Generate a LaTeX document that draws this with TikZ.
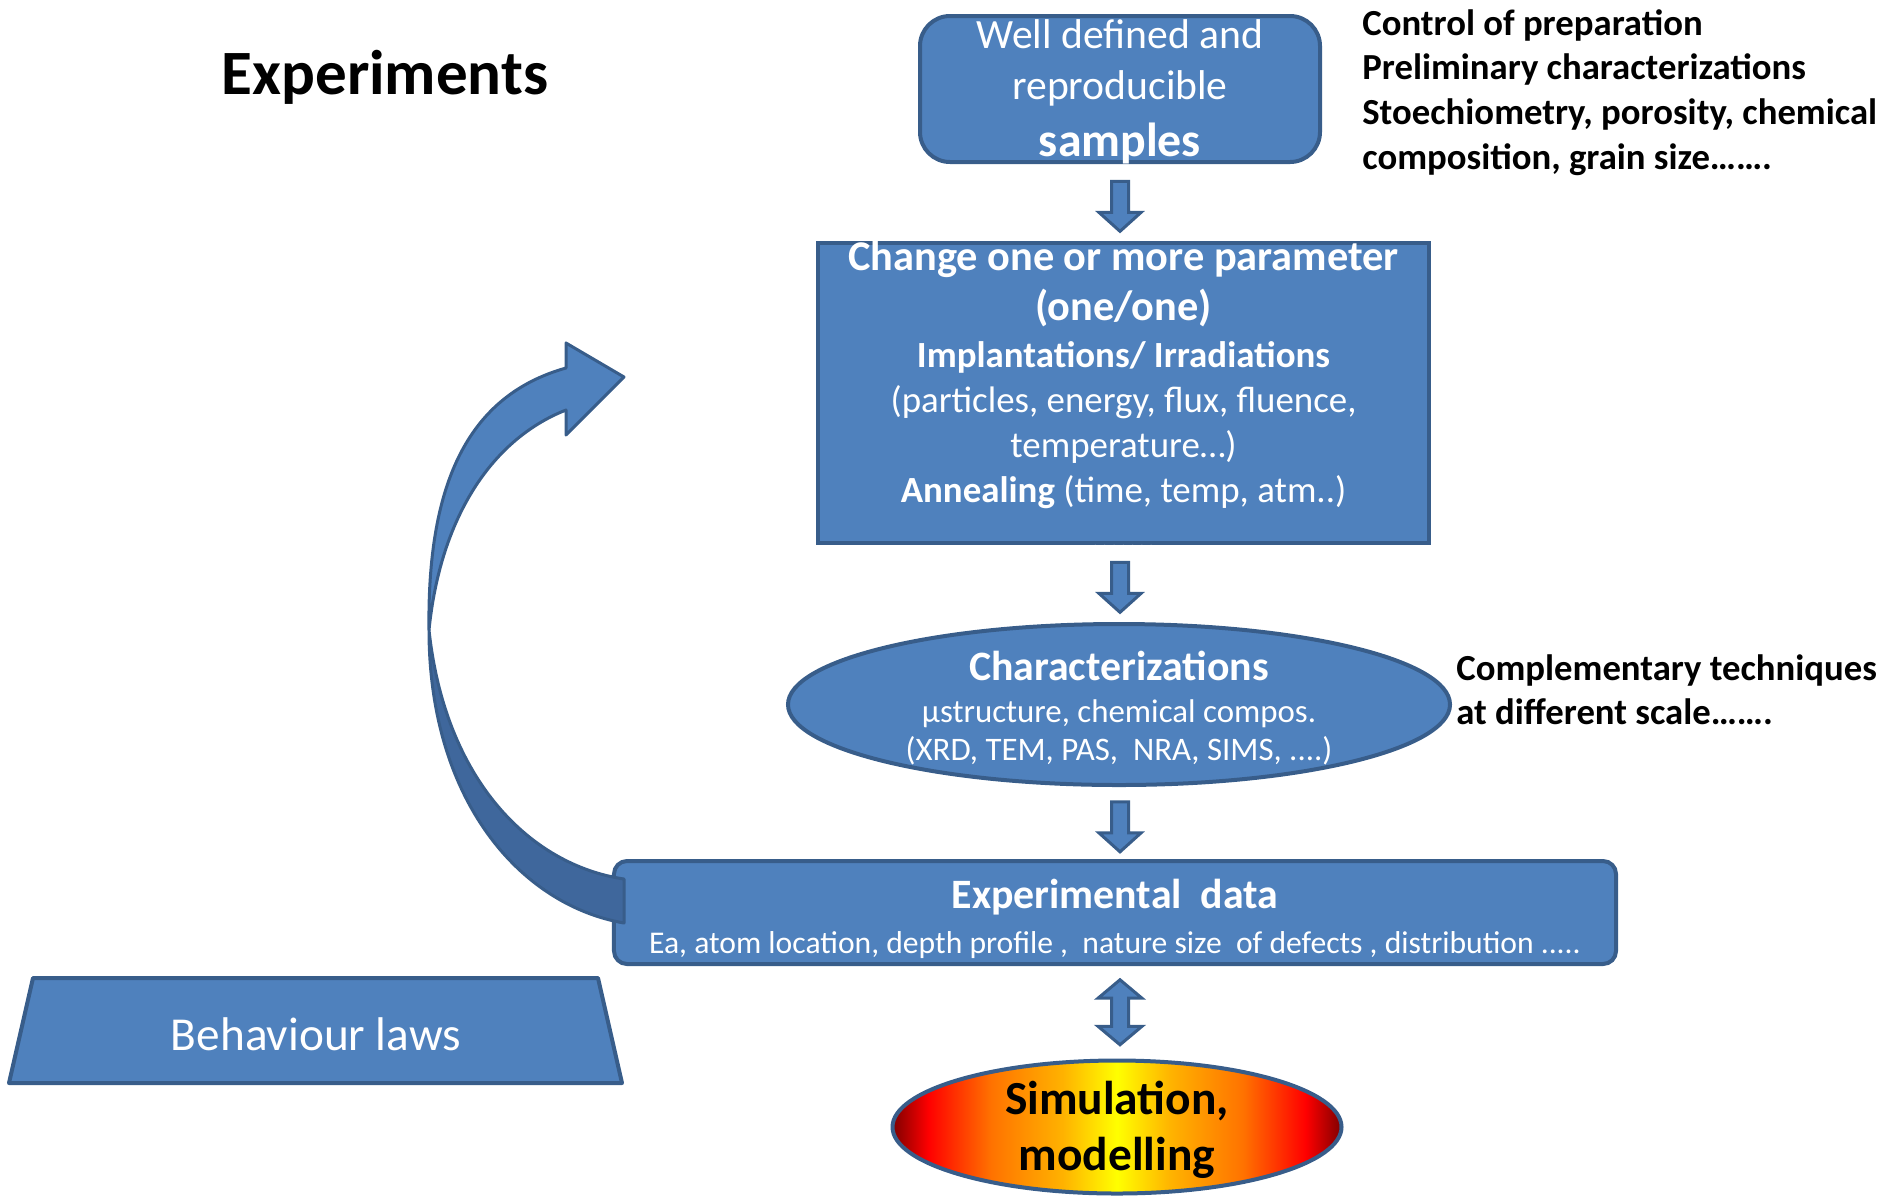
\documentclass[tikz,border=0pt]{standalone}
\usepackage{fontspec}
\setmainfont{Carlito}
\usetikzlibrary{shapes.geometric,shapes.arrows,positioning,calc}
\definecolor{boxblue}{HTML}{4F81BD}
\definecolor{edgeblue}{HTML}{385D8A}
\definecolor{bandblue}{HTML}{3F679C}
\pgfdeclarehorizontalshading{simfire}{100bp}{color(0bp)=(red!50!black); color(25bp)=(red!50!black); color(29bp)=(red); color(36bp)=(orange!90!red); color(44bp)=(orange!60!yellow); color(50bp)=(yellow); color(56bp)=(orange!60!yellow); color(64bp)=(orange!90!red); color(71bp)=(red); color(75bp)=(red!50!black); color(100bp)=(red!50!black)}

\begin{document}
\begin{tikzpicture}[x=0.2mm, y=-0.2mm,
  bluebox/.style={draw=edgeblue, line width=0.8mm, fill=boxblue, text=white, align=center, inner sep=0pt},
  boxtext/.style={text=white, align=center, inner sep=0pt},
  note/.style={anchor=north west, align=left, inner sep=0pt, font=\fontsize{20.9}{25.4}\selectfont\bfseries},
  flow/.style={single arrow, draw=edgeblue, line width=0.6mm, fill=boxblue, inner sep=1.4mm, minimum width=7.8mm, minimum height=10mm, single arrow head extend=2.5mm, single arrow tip angle=96, shape border rotate=270},
  twoway/.style={double arrow, draw=edgeblue, line width=0.6mm, fill=boxblue, inner sep=1.4mm, minimum width=8.2mm, minimum height=13mm, double arrow head extend=2.7mm, double arrow tip angle=100, shape border rotate=90},
  band/.style={draw=edgeblue, line width=0.6mm, line join=round}
]
  \useasboundingbox (0,0) rectangle (1893,1196);

  \node[anchor=base, inner sep=0pt, font=\fontsize{35.9}{43}\selectfont\bfseries] (title) at (385,94) {Experiments};

  \node[bluebox, rounded corners=6mm, minimum width=80mm, minimum height=29.2mm] (samples) at (1120,89) {};
  \node[boxtext, font=\fontsize{23.7}{29}\selectfont] (samplestext) at (1120,92)
    {Well defined and\\reproducible\\[3.4pt]\fontsize{27.2}{31}\selectfont\bfseries samples};
  \node[note] (prep) at (1362,9) {Control of preparation\\Preliminary characterizations\\Stoechiometry, porosity, chemical\\composition, grain size…….};

  \node[bluebox, minimum width=122.2mm, minimum height=60mm] (param) at (1123.5,393) {};
  \node[boxtext, font=\fontsize{21}{25.6}\selectfont] (paramtext) at (1123.5,395)
    {\fontsize{24.1}{29}\selectfont\bfseries Change one or more parameter\\[3.3pt]
     \fontsize{24.1}{29}\selectfont\bfseries (one/one)\\[1pt]
     \bfseries Implantations/ Irradiations\\
     (particles, energy, flux, fluence,\\
     temperature…)\\
     \textbf{Annealing} (time, temp, atm..)\\[1pt]
     .......};

  \node[bluebox, ellipse, minimum width=132.4mm, minimum height=32.2mm] (charac) at (1119,704.5) {};
  \node[boxtext, font=\fontsize{18.7}{21.6}\selectfont] (charactext) at (1119,708)
    {\fontsize{23.8}{29}\selectfont\bfseries Characterizations\\[2.8pt]
     µstructure, chemical compos.\\
     (XRD, TEM, PAS,~ NRA, SIMS, ....)};
  \node[note] (scale) at (1456,654) {Complementary techniques\\at different scale…….};

  \node[bluebox, rounded corners=2.6mm, minimum width=200.4mm, minimum height=20.6mm] (expdata) at (1115,912.5) {};
  \node[boxtext, font=\fontsize{18}{25.5}\selectfont] (expdatatext) at (1115,919)
    {\fontsize{23.8}{26}\selectfont\bfseries Experimental~ data\\
     Ea, atom location, depth profile ,~ nature size~ of defects , distribution .....};

  \node[ellipse, shading=simfire, draw=edgeblue, line width=0.8mm, minimum width=89.8mm, minimum height=26.6mm] (sim) at (1117,1127) {};
  \node[align=center, inner sep=0pt, font=\fontsize{27}{31.9}\selectfont\bfseries] (simtext) at (1117,1130) {Simulation,\\modelling};

  % behaviour laws panel
  \filldraw[band, line width=0.8mm, fill=boxblue] (33,978) -- (598,978) -- (622,1083) -- (9,1083) -- cycle;
  \node[boxtext, font=\fontsize{26.9}{32}\selectfont] (laws) at (316,1034) {Behaviour laws};

  % block arrows between the steps
  \node[flow] (step1) at ($(samples.south)!0.5!(samples.south|-param.north)$) {};
  \node[flow] (step2) at ($(samples.south|-param.south)!0.5!(samples.south|-charac.north)$) {};
  \node[flow] (step3) at ($(samples.south|-charac.south)!0.5!(samples.south|-expdata.north)$) {};
  \node[twoway] (link) at ($(samples.south|-expdata.south)!0.5!(samples.south|-sim.north)$) {};

  % feedback arrow, back of the ribbon first
  \filldraw[band, fill=bandblue] (429,630) .. controls (429,800) and (520,905) .. (624,923) -- (624,879) .. controls (530,865) and (445,780) .. cycle;
  \filldraw[band, fill=boxblue] (429,630) .. controls (427,480) and (470,395) .. (566,368) -- (566,343) -- (624,377) -- (566,435) -- (566,410) .. controls (490,440) and (440,520) .. cycle;
\end{tikzpicture}
\end{document}
